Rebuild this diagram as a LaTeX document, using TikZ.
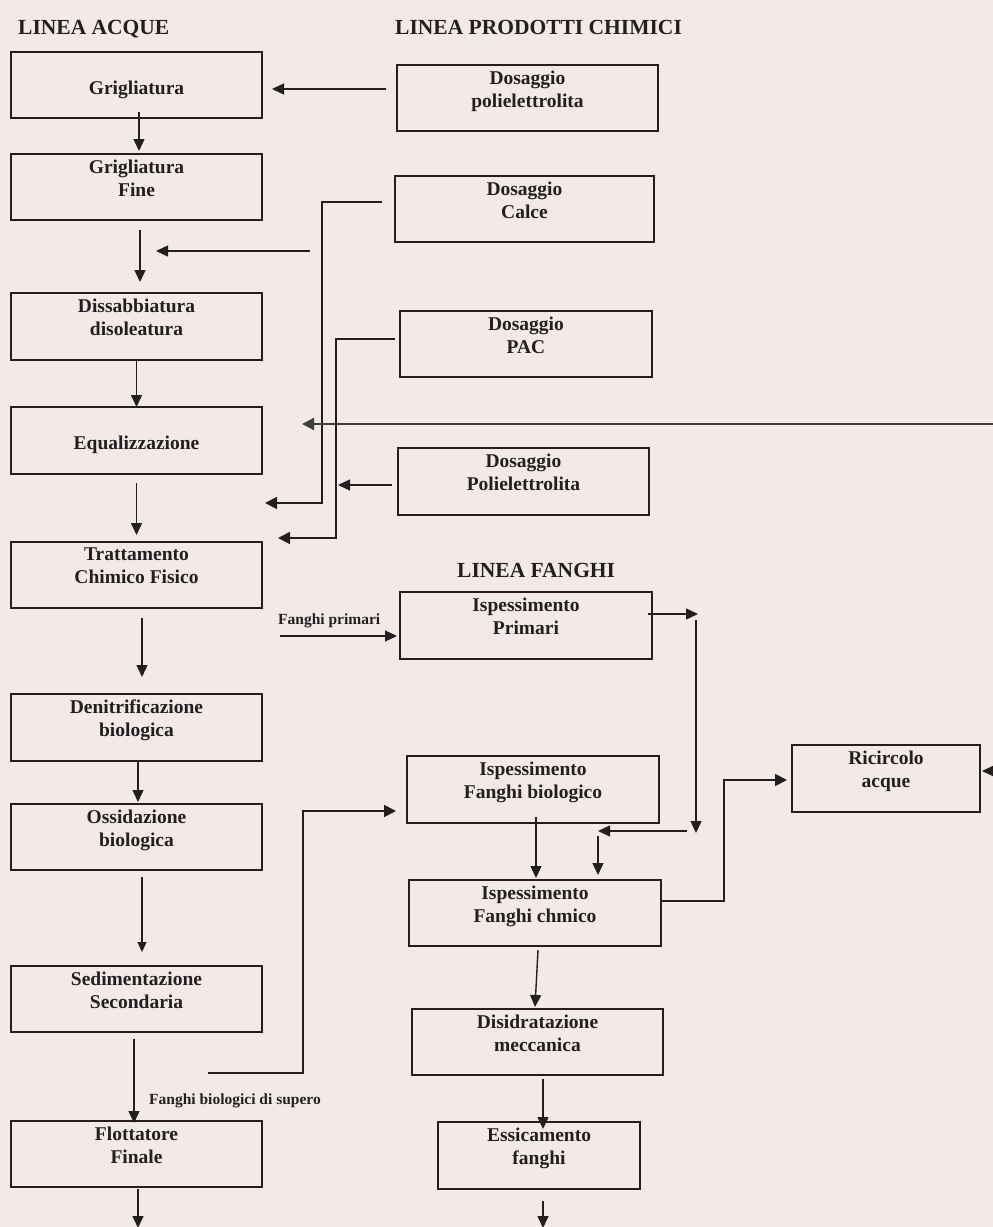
\documentclass[tikz,border=0pt]{standalone}
\usepackage{fontspec}
\setmainfont{Liberation Serif}
\usetikzlibrary{arrows.meta,calc}
\definecolor{ink}{RGB}{35,31,32}
\definecolor{paper}{RGB}{243,234,232}
\definecolor{feed}{RGB}{64,64,64}
\begin{document}
\begin{tikzpicture}[x=1pt,y=-1pt,
  box/.style={draw=ink,line width=1.3pt,inner sep=0pt,outer sep=0pt,anchor=north west},
  boxtext/.style={font=\fontsize{19.5}{23}\selectfont\bfseries,align=center,anchor=north,inner sep=0pt,text=ink},
  heading/.style={font=\fontsize{21.5}{25}\selectfont\bfseries,anchor=base west,inner sep=0pt,text=ink},
  note/.style={font=\fontsize{15.5}{18}\selectfont\bfseries,anchor=base west,inner sep=0pt,text=ink},
  arr/.style={draw=ink,line width=1.4pt,-{Triangle[length=12pt,width=11pt]}},
  arrsmall/.style={draw=ink,line width=1.2pt,-{Triangle[length=10pt,width=9pt]}},
  pipe/.style={draw=ink,line width=1.8pt,-{Triangle[length=12pt,width=12pt]}},
  return/.style={draw=feed,line width=2.2pt,-{Triangle[length=12pt,width=12pt]}}]

\useasboundingbox (0,0) rectangle (993,1227);
\fill[paper] (0,0) rectangle (993,1227);

% section headings
\node[heading] (h-acque) at (18,34) {LINEA ACQUE};
\node[heading] (h-chim) at (395,34) {LINEA PRODOTTI CHIMICI};
\node[heading] (h-fanghi) at (457,577) {LINEA FANGHI};

% water line
\node[box,minimum width=251pt,minimum height=66pt] (grig) at (11,52) {};
\node[boxtext] (grig-t) at ([yshift=-28.5pt]grig.north) {Grigliatura};
\node[box,minimum width=251pt,minimum height=66pt] (grigf) at (11,154) {};
\node[boxtext] (grigf-t) at ([yshift=-5.5pt]grigf.north) {Grigliatura\\Fine};
\node[box,minimum width=251pt,minimum height=67pt] (diss) at (11,293) {};
\node[boxtext] (diss-t) at ([yshift=-5.5pt]diss.north) {Dissabbiatura\\disoleatura};
\node[box,minimum width=251pt,minimum height=67pt] (equal) at (11,407) {};
\node[boxtext] (equal-t) at ([yshift=-28.5pt]equal.north) {Equalizzazione};
\node[box,minimum width=251pt,minimum height=66pt] (tratt) at (11,542) {};
\node[boxtext] (tratt-t) at ([yshift=-5.5pt]tratt.north) {Trattamento\\Chimico Fisico};
\node[box,minimum width=251pt,minimum height=67pt] (denit) at (11,694) {};
\node[boxtext] (denit-t) at ([yshift=-5.5pt]denit.north) {Denitrificazione\\biologica};
\node[box,minimum width=251pt,minimum height=66pt] (ossid) at (11,804) {};
\node[boxtext] (ossid-t) at ([yshift=-5.5pt]ossid.north) {Ossidazione\\biologica};
\node[box,minimum width=251pt,minimum height=66pt] (sedim) at (11,966) {};
\node[boxtext] (sedim-t) at ([yshift=-5.5pt]sedim.north) {Sedimentazione\\Secondaria};
\node[box,minimum width=251pt,minimum height=66pt] (flott) at (11,1121) {};
\node[boxtext] (flott-t) at ([yshift=-5.5pt]flott.north) {Flottatore\\Finale};

% chemical dosing
\node[box,minimum width=261pt,minimum height=66pt] (dpoli) at (397,65) {};
\node[boxtext] (dpoli-t) at ([yshift=-5.5pt]dpoli.north) {Dosaggio\\polielettrolita};
\node[box,minimum width=259pt,minimum height=66pt] (dcalce) at (395,176) {};
\node[boxtext] (dcalce-t) at ([yshift=-5.5pt]dcalce.north) {Dosaggio\\Calce};
\node[box,minimum width=252pt,minimum height=66pt] (dpac) at (400,311) {};
\node[boxtext] (dpac-t) at ([yshift=-5.5pt]dpac.north) {Dosaggio\\PAC};
\node[box,minimum width=251pt,minimum height=67pt] (dpoli2) at (398,448) {};
\node[boxtext] (dpoli2-t) at ([yshift=-5.5pt]dpoli2.north) {Dosaggio\\Polielettrolita};

% sludge line
\node[box,minimum width=252pt,minimum height=67pt] (ispprim) at (400,592) {};
\node[boxtext] (ispprim-t) at ([yshift=-5.5pt]ispprim.north) {Ispessimento\\Primari};
\node[box,minimum width=252pt,minimum height=67pt] (ispbio) at (407,756) {};
\node[boxtext] (ispbio-t) at ([yshift=-5.5pt]ispbio.north) {Ispessimento\\Fanghi biologico};
\node[box,minimum width=252pt,minimum height=66pt] (ispchim) at (409,880) {};
\node[boxtext] (ispchim-t) at ([yshift=-5.5pt]ispchim.north) {Ispessimento\\Fanghi chmico};
\node[box,minimum width=251pt,minimum height=66pt] (disid) at (412,1009) {};
\node[boxtext] (disid-t) at ([yshift=-5.5pt]disid.north) {Disidratazione\\meccanica};
\node[box,minimum width=202pt,minimum height=67pt] (essic) at (438,1122) {};
\node[boxtext] (essic-t) at ([yshift=-5.5pt]essic.north) {Essicamento\\fanghi};
\node[box,minimum width=188pt,minimum height=67pt] (ricirc) at (792,745) {};
\node[boxtext] (ricirc-t) at ([yshift=-5.5pt]ricirc.north) {Ricircolo\\acque};

% free ends and bends of the pipework
\coordinate (calce-bend) at (322,503);
\coordinate (calce-tap) at (310,251);
\coordinate (calce-in) at (156,251);
\coordinate (pac-bend) at (336,538);
\coordinate (pac-in) at (338,485);
\coordinate (ret-start) at (993,424);
\coordinate (ret-end) at (302,424);
\coordinate (acque-out) at (138,1228);
\coordinate (supero-start) at (208,1073);
\coordinate (supero-bend) at (303,811);
\coordinate (prim-start) at (280,636);
\coordinate (prim-out) at (698,614);
\coordinate (prim-top) at (696,620);
\coordinate (prim-bottom) at (696,833);
\coordinate (mix-start) at (687,831);
\coordinate (mix-end) at (598,831);
\coordinate (ric-bend) at (724,780);
\coordinate (ric-in) at (993,771);
\coordinate (fanghi-out) at (543,1228);

% water line flow
\draw[arr] ([xshift=2.5pt,yshift=6pt]grig.south) -- ([xshift=2.5pt,yshift=3pt]grigf.north);
\draw[arr] ([xshift=3.5pt,yshift=-10pt]grigf.south) -- ([xshift=3.5pt,yshift=11pt]diss.north);
\draw[arr] (diss.south) -- (equal.north);
\draw[arr] ([yshift=-9pt]equal.south) -- ([yshift=7pt]tratt.north);
\draw[arr] ([xshift=5.5pt,yshift=-10pt]tratt.south) -- ([xshift=5.5pt,yshift=17pt]denit.north);
\draw[arr] ([xshift=1.5pt]denit.south) -- ([xshift=1.5pt,yshift=2pt]ossid.north);
\draw[arrsmall] ([xshift=5.5pt,yshift=-7pt]ossid.south) -- ([xshift=5.5pt,yshift=14pt]sedim.north);
\draw[arr] ([xshift=-2.5pt,yshift=-7pt]sedim.south) -- ([xshift=-2.5pt,yshift=-2pt]flott.north);
\draw[arr] ([xshift=1.5pt,yshift=-2pt]flott.south) -- (acque-out);

% chemical feeds
\draw[arr] ([xshift=-11pt,yshift=9pt]dpoli.west) -- ([xshift=10pt,yshift=-4pt]grig.east);
\draw[pipe] ([xshift=-13pt,yshift=7pt]dcalce.west) -| (calce-bend) -- ([xshift=3pt,yshift=-29pt]equal.south east);
\draw[arr] (calce-tap) -- (calce-in);
\draw[pipe] ([xshift=-5pt,yshift=5pt]dpac.west) -| (pac-bend) -- ([xshift=16pt,yshift=4pt]tratt.north east);
\draw[arr] ([xshift=-6pt,yshift=-3.5pt]dpoli2.west) -- (pac-in);
\draw[return] (ret-start) -- (ret-end);

% sludge line flow
\draw[arr] (prim-start) -- ([xshift=-3pt,yshift=-10.5pt]ispprim.west);
\node[note] (prim-lbl) at (278,624) {Fanghi primari};
\draw[arr] ([xshift=-4pt,yshift=11.5pt]ispprim.east) -- (prim-out);
\draw[arr] (prim-top) -- (prim-bottom);
\draw[arr] (mix-start) -- (mix-end);
\draw[arr] ([xshift=63pt,yshift=44pt]ispchim.north) -- ([xshift=63pt,yshift=5pt]ispchim.north);
\draw[pipe] (supero-start) -| (supero-bend) -- ([xshift=-11pt,yshift=-21.5pt]ispbio.west);
\node[note] (supero-lbl) at (149,1104) {Fanghi biologici di supero};
\draw[arr] ([xshift=3pt,yshift=6pt]ispbio.south) -- ([xshift=1pt,yshift=2pt]ispchim.north);
\draw[pipe] ([xshift=-1pt,yshift=12pt]ispchim.east) -| (ric-bend) -- ([xshift=-5pt,yshift=-1.5pt]ricirc.west);
\draw[arr] (ric-in) -- ([xshift=2pt,yshift=7.5pt]ricirc.east);
\draw[arr] ([xshift=3pt,yshift=-4pt]ispchim.south) -- ([xshift=-2.5pt,yshift=2pt]disid.north);
\draw[arr] ([xshift=5.5pt,yshift=-4pt]disid.south) -- ([xshift=4pt,yshift=-7pt]essic.north);
\draw[arr] ([xshift=4pt,yshift=-12pt]essic.south) -- (fanghi-out);
\end{tikzpicture}
\end{document}
